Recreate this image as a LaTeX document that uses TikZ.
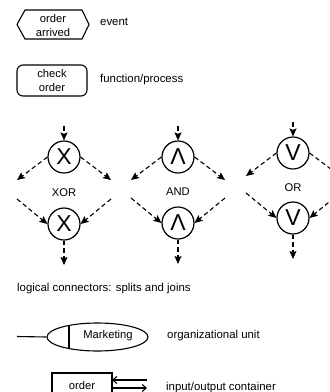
\documentclass[tikz,border=0pt]{standalone}
\usepackage{fontspec}
\setmainfont{Liberation Sans}
\usetikzlibrary{arrows.meta,shapes.geometric}
\begin{document}
\begin{tikzpicture}[x=1pt,y=-1pt,
  lbl/.style={anchor=west,inner sep=0pt,font=\fontsize{11.4}{14}\selectfont},
  txt/.style={inner sep=0pt,align=center,font=\fontsize{11.2}{14}\selectfont},
  conn/.style={circle,draw,line width=1.2pt,minimum size=32pt,inner sep=0pt,font=\fontsize{23}{24}\selectfont},
  flow/.style={line width=1.1pt,dash pattern=on 4.5pt off 3pt,-{Stealth[length=8pt,width=7pt,inset=1.5pt]}},
  solidline/.style={line width=1.1pt},
  iotip/.style={line width=1.1pt,-{Straight Barb[length=4pt,width=7pt]}}
]
\clip (0,0) rectangle (330,392);

% event
\node[txt] (ev) at (53,25) {order\\arrived};
\draw[solidline] (17,24.5) -- (25,10) -- (82,10) -- (89,24.5) -- (82,39) -- (25,39) -- cycle;
\node[lbl] (evl) at (100,22) {event};

% function
\node[txt,draw,solidline,rounded corners=6pt,minimum width=70pt,minimum height=31pt] (fn) at (52,80.5) {check\\order};
\node[lbl] (fnl) at (100,80) {function/process};

% logical connectors
\foreach \n/\cx/\ca/\cb/\sym/\lab/\ly in {xor/64/157/224/X/XOR/193, and/178/157/223/Λ/AND/192, or/293/153/218/V/OR/188}{
  \node[conn] (\n1) at (\cx,\ca) {\sym};
  \node[conn] (\n2) at (\cx,\cb) {\sym};
  \node[txt] (\n lab) at (\cx,\ly) {\lab};
  \coordinate (\n in) at (\cx,\ca-31);
  \coordinate (\n sl) at (\cx-47,\ca+23);
  \coordinate (\n sr) at (\cx+47,\ca+23);
  \coordinate (\n jl) at (\cx-47,\cb-25);
  \coordinate (\n jr) at (\cx+47,\cb-25);
  \coordinate (\n out) at (\cx,\cb+41);
  \draw[flow] (\n in) -- (\n1);
  \draw[flow] (\n1.west) -- (\n sl);
  \draw[flow] (\n1.east) -- (\n sr);
  \draw[flow] (\n jl) -- (\n2.west);
  \draw[flow] (\n jr) -- (\n2.east);
  \draw[flow] (\n2) -- (\n out);
}
\node[lbl] (lcl) at (17,289) {logical connectors: splits and joins};

% organizational unit
\node[ellipse,draw,solidline,minimum width=101pt,minimum height=28pt,inner sep=0pt] (org) at (97.5,337) {};
\coordinate (orgin) at (17,336.5);
\draw[solidline] (orgin) -- (org.west);
\draw[solidline] (69,325.4) -- (69,348.6);
\node[txt] (orgt) at (108,336) {Marketing};
\node[lbl] (orgl) at (167,336) {organizational unit};

% input/output container
\draw[solidline] (52,400) |- (112,373) -- (112,400);
\node[txt] (ord) at (82,385) {order};
\coordinate (ioa) at (112,380);
\coordinate (iob) at (147,380);
\coordinate (ioc) at (112,388);
\coordinate (iod) at (147,388);
\draw[iotip] (iob) -- (ioa);
\draw[iotip] (ioc) -- (iod);
\node[lbl] (iol) at (166,388) {input/output container};
\end{tikzpicture}
\end{document}
